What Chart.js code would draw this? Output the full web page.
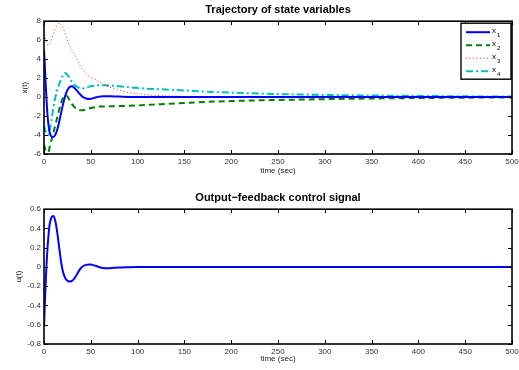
<!DOCTYPE html>
<html>
<head>
<meta charset="utf-8">
<script src="https://cdn.jsdelivr.net/npm/chart.js@4"></script>
<style>
  html, body { margin: 0; padding: 0; background: #fff; }
  .wrap { position: absolute; left: 0; width: 519px; height: 185px; }
</style>
</head>
<body>
<div class="wrap" style="top:0"><canvas id="states"></canvas></div>
<div class="wrap" style="top:185px"><canvas id="control"></canvas></div>
<script>
// sample times (sec), shared by every series
const time = [0, 1, 2, 3, 4, 5, 6, 8, 10, 12, 14, 16, 18, 20, 22, 24, 26, 28, 30, 32, 35, 38, 40, 42,
  45, 48, 50, 55, 60, 65, 70, 80, 90, 100, 125, 150, 175, 200, 250, 300, 350, 400, 450, 500];

const x1 = [5, 3, 1, -0.8, -2.2, -3.1, -3.7, -4.15, -4.2, -4.0, -3.5, -2.7, -1.8, -0.9, -0.1, 0.5, 0.9, 1.1,
  1.15, 1.0, 0.7, 0.35, 0.15, -0.02, -0.15, -0.2, -0.18, -0.05, 0.05, 0.1, 0.1, 0.05, 0.02, 0,
  0, 0, 0, 0, 0, 0, 0, 0, 0, 0];
const x2 = [-5.0, -5.4, -5.65, -5.8, -5.8, -5.7, -5.3, -4.5, -3.8, -3.0, -2.2, -1.4, -0.7, -0.15, 0.15, 0.15,
  -0.1, -0.45, -0.75, -1.0, -1.25, -1.37, -1.4, -1.38, -1.3, -1.2, -1.15, -1.05, -1.0, -0.98, -0.97,
  -0.95, -0.92, -0.88, -0.75, -0.62, -0.5, -0.42, -0.3, -0.22, -0.15, -0.1, -0.06, -0.04];
const x3 = [7.0, 6.5, 6.0, 5.7, 5.5, 5.5, 5.6, 6.1, 6.7, 7.2, 7.6, 7.8, 7.7, 7.4, 6.9, 6.3, 5.75, 5.3,
  4.95, 4.6, 4.0, 3.4, 3.1, 2.85, 2.5, 2.2, 2.05, 1.85, 1.55, 1.3, 1.05, 0.72, 0.5, 0.35, 0.15,
  0.06, 0.03, 0.01, 0, 0, 0, 0, 0, 0];
const x4 = [-3.0, -3.4, -3.7, -3.9, -4.0, -3.9, -3.5, -2.4, -1.1, -0.1, 0.7, 1.3, 1.8, 2.25, 2.55, 2.45,
  2.2, 1.9, 1.6, 1.35, 1.1, 0.95, 0.9, 0.92, 1.0, 1.1, 1.15, 1.22, 1.25, 1.25, 1.22, 1.15, 1.05,
  0.95, 0.82, 0.7, 0.57, 0.47, 0.32, 0.23, 0.17, 0.12, 0.08, 0.05];
const u = [-0.62, -0.35, -0.12, 0.08, 0.23, 0.35, 0.44, 0.515, 0.53, 0.48, 0.37, 0.22, 0.07, -0.04, -0.1,
  -0.135, -0.148, -0.15, -0.145, -0.125, -0.08, -0.03, -0.005, 0.01, 0.022, 0.026, 0.025, 0.012,
  -0.005, -0.013, -0.012, -0.006, -0.003, -0.001, 0, 0, 0, 0, 0, 0, 0, 0, 0, 0];

const seriesNames = ['x1', 'x2', 'x3', 'x4'];
const timeTicks = [0, 50, 100, 150, 200, 250, 300, 350, 400, 450, 500];
const stateTicks = [-6, -4, -2, 0, 2, 4, 6, 8];
const controlTicks = [-0.8, -0.6, -0.4, -0.2, 0, 0.2, 0.4, 0.6];

const FONT = '"Liberation Sans", Arial, Helvetica, sans-serif';
const tickFont = { family: FONT, size: 8 };
const pts = ys => time.map((t, i) => ({ x: t, y: ys[i] }));
const fixTicks = list => s => { s.ticks = list.map(v => ({ value: v })); };

// matlab style box: frame + inward ticks on all four sides
const boxAxes = {
  id: 'boxAxes',
  afterDraw(chart) {
    const { ctx, chartArea: a, scales: { x, y } } = chart;
    ctx.save();
    ctx.strokeStyle = '#000';
    ctx.lineWidth = 1;
    ctx.beginPath();
    const len = 4;
    x.ticks.forEach(t => {
      const px = Math.round(x.getPixelForValue(t.value)) + 0.5;
      ctx.moveTo(px, a.bottom); ctx.lineTo(px, a.bottom - len);
      ctx.moveTo(px, a.top); ctx.lineTo(px, a.top + len);
    });
    y.ticks.forEach(t => {
      const py = Math.round(y.getPixelForValue(t.value)) + 0.5;
      ctx.moveTo(a.left, py); ctx.lineTo(a.left + len, py);
      ctx.moveTo(a.right, py); ctx.lineTo(a.right - len, py);
    });
    ctx.stroke();
    ctx.lineWidth = 1.6;
    ctx.strokeRect(a.left, a.top, a.right - a.left, a.bottom - a.top);
    ctx.restore();
  }
};

// legend box in the top right corner, labels drawn as x with subscript
const stateLegend = {
  id: 'stateLegend',
  afterDraw(chart) {
    const { ctx, chartArea: a } = chart;
    const w = 50, h = 56;
    const left = a.right - w - 1, top = a.top + 2;
    ctx.save();
    ctx.fillStyle = '#fff';
    ctx.fillRect(left, top, w, h);
    chart.data.datasets.forEach((ds, i) => {
      const yy = top + 9 + i * 13;
      ctx.strokeStyle = ds.borderColor;
      ctx.lineWidth = ds.borderWidth;
      ctx.setLineDash(ds.borderDash || []);
      ctx.beginPath();
      ctx.moveTo(left + 5, yy); ctx.lineTo(left + 29, yy);
      ctx.stroke();
      ctx.setLineDash([]);
      ctx.fillStyle = '#000';
      ctx.textBaseline = 'middle';
      ctx.font = '8px ' + FONT;
      ctx.fillText(ds.label[0], left + 31, yy - 1);
      ctx.font = '6px ' + FONT;
      ctx.fillText(ds.label.slice(1), left + 36, yy + 3);
    });
    ctx.strokeStyle = '#000';
    ctx.lineWidth = 1.4;
    ctx.strokeRect(left, top, w, h);
    ctx.restore();
  }
};

function axisX(titlePadBottom, height) {
  return {
    type: 'linear', min: 0, max: 500,
    afterBuildTicks: fixTicks(timeTicks),
    // fixed height, and let the end labels overhang instead of shrinking the plot
    afterFit: s => { s.height = height; s.paddingLeft = 0; s.paddingRight = 0; },
    grid: { display: false, drawTicks: false },
    border: { display: false },
    ticks: { font: tickFont, color: '#333', padding: 3, maxRotation: 0, autoSkip: false },
    title: { display: true, text: 'time (sec)', font: tickFont, color: '#222',
      padding: { top: 0, bottom: titlePadBottom } }
  };
}

function axisY(min, max, list, label, width, fmt) {
  return {
    min, max,
    afterBuildTicks: fixTicks(list),
    afterFit: s => { s.width = width; s.paddingTop = 0; s.paddingBottom = 0; },
    grid: { display: false, drawTicks: false },
    border: { display: false },
    ticks: { font: tickFont, color: '#333', padding: 3, autoSkip: false, callback: fmt },
    title: { display: true, text: label, font: tickFont, color: '#222', padding: 0 }
  };
}

const lineBase = { pointRadius: 0, fill: false, cubicInterpolationMode: 'monotone' };

new Chart(document.getElementById('states'), {
  type: 'line',
  data: {
    datasets: [
      { ...lineBase, label: seriesNames[0], data: pts(x1), borderColor: '#0000ff', borderWidth: 2 },
      { ...lineBase, label: seriesNames[1], data: pts(x2), borderColor: '#008000', borderWidth: 2, borderDash: [6, 4] },
      { ...lineBase, label: seriesNames[2], data: pts(x3), borderColor: '#ff2020', borderWidth: 1, borderDash: [1, 2.5] },
      { ...lineBase, label: seriesNames[3], data: pts(x4), borderColor: '#00bfbf', borderWidth: 2, borderDash: [7, 3, 2, 3] },
    ]
  },
  options: {
    responsive: true, maintainAspectRatio: false, animation: false, devicePixelRatio: 1,
    layout: { padding: { left: 20, right: 7, top: 0, bottom: 0 } },
    plugins: {
      legend: { display: false },
      tooltip: { enabled: false },
      title: { display: true, fullSize: false, text: 'Trajectory of state variables', color: '#000',
        font: { family: FONT, size: 11, weight: 'bold' }, padding: { top: 3, bottom: 5 } }
    },
    scales: {
      x: axisX(9, 31),
      y: axisY(-6, 8, stateTicks, 'x(t)', 24, v => String(v))
    }
  },
  plugins: [boxAxes, stateLegend]
});

new Chart(document.getElementById('control'), {
  type: 'line',
  data: {
    datasets: [
      { ...lineBase, label: 'u', data: pts(u), borderColor: '#0000ff', borderWidth: 2 }
    ]
  },
  options: {
    responsive: true, maintainAspectRatio: false, animation: false, devicePixelRatio: 1,
    layout: { padding: { left: 14, right: 7, top: 0, bottom: 0 } },
    plugins: {
      legend: { display: false },
      tooltip: { enabled: false },
      title: { display: true, fullSize: false, text: 'Output\u2212feedback control signal', color: '#000',
        font: { family: FONT, size: 11, weight: 'bold' }, padding: { top: 6, bottom: 5 } }
    },
    scales: {
      x: axisX(6, 26),
      y: axisY(-0.8, 0.6, controlTicks, 'u(t)', 30, v => (v === 0 ? '0' : v.toFixed(1)))
    }
  },
  plugins: [boxAxes]
});
</script>
</body>
</html>
